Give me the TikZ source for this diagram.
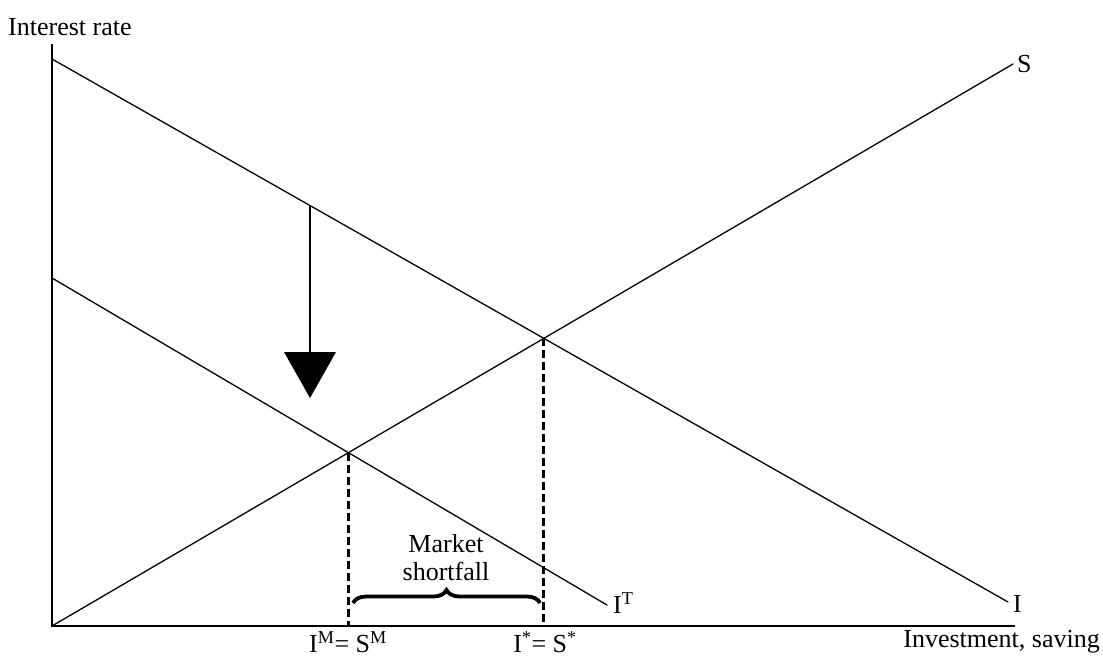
\documentclass[tikz,border=0pt]{standalone}
\usepackage{fontspec}
\setmainfont{Liberation Serif}
\usetikzlibrary{decorations.pathreplacing,intersections}
\begin{document}
\begin{tikzpicture}[x=1pt,y=-1pt,
  lbl/.style={font=\fontsize{26}{28}\selectfont, inner sep=0pt},
  curve/.style={line width=1.3pt, line cap=round},
  axis/.style={line width=1.8pt},
  dashline/.style={line width=2.8pt, dash pattern=on 8pt off 4pt},
  bracestyle/.style={decorate, decoration={brace, amplitude=13pt}, line width=3.8pt}]
\useasboundingbox (0,0) rectangle (1103,656);
% coordinates
\coordinate (O) at (52,626);
\coordinate (Ytop) at (52,44);
\coordinate (Xend) at (1015,626);
\coordinate (Ia) at (52,59);
\coordinate (Ib) at (1008,602);
\coordinate (Sb) at (1013,64);
\coordinate (ITa) at (52,278);
\coordinate (ITb) at (607,605);
% axes
\draw[axis] (Ytop) -- (O) -- (Xend);
% curves
\draw[curve, name path=Iline] (Ia) -- (Ib);
\draw[curve, name path=Sline] (O) -- (Sb);
\draw[curve, name path=ITline] (ITa) -- (ITb);
\path[name intersections={of=Iline and Sline, by=E1}];
\path[name intersections={of=ITline and Sline, by=E2}];
% dashed verticals
\coordinate (E1b) at (E1 |- O);
\coordinate (E2b) at (E2 |- O);
\draw[dashline] (E1) -- (E1b);
\draw[dashline] (E2) -- (E2b);
% shift arrow
\coordinate (A1) at (310,206);
\coordinate (A2) at (310,352);
\coordinate (TL) at (284,352);
\coordinate (TR) at (336,352);
\coordinate (TT) at (310,398);
\draw[curve] (A1) -- (A2);
\fill (TL) -- (TR) -- (TT) -- cycle;
% brace
\coordinate (B1) at (353,603);
\coordinate (B2) at (540,603);
\draw[bracestyle] (B1) -- (B2);
% labels
\node[lbl, anchor=west] (ylab) at (8,27) {Interest rate};
\node[lbl, anchor=east] (xlab) at (1100,642) {Investment, saving};
\node[lbl, anchor=west] (Slab) at (1017,64) {S};
\node[lbl, anchor=west] (Ilab) at (1013,604) {I};
\node[lbl, anchor=west] (ITlab) at (613,603) {I\textsuperscript{T}};
\node[lbl] (EMlab) at (348,642) {I\textsuperscript{M}= S\textsuperscript{M}};
\node[lbl] (ESlab) at (545,642) {I\textsuperscript{*}= S\textsuperscript{*}};
\node[lbl, align=center] (mkt) at (446,558) {Market\\shortfall};
\end{tikzpicture}
\end{document}
